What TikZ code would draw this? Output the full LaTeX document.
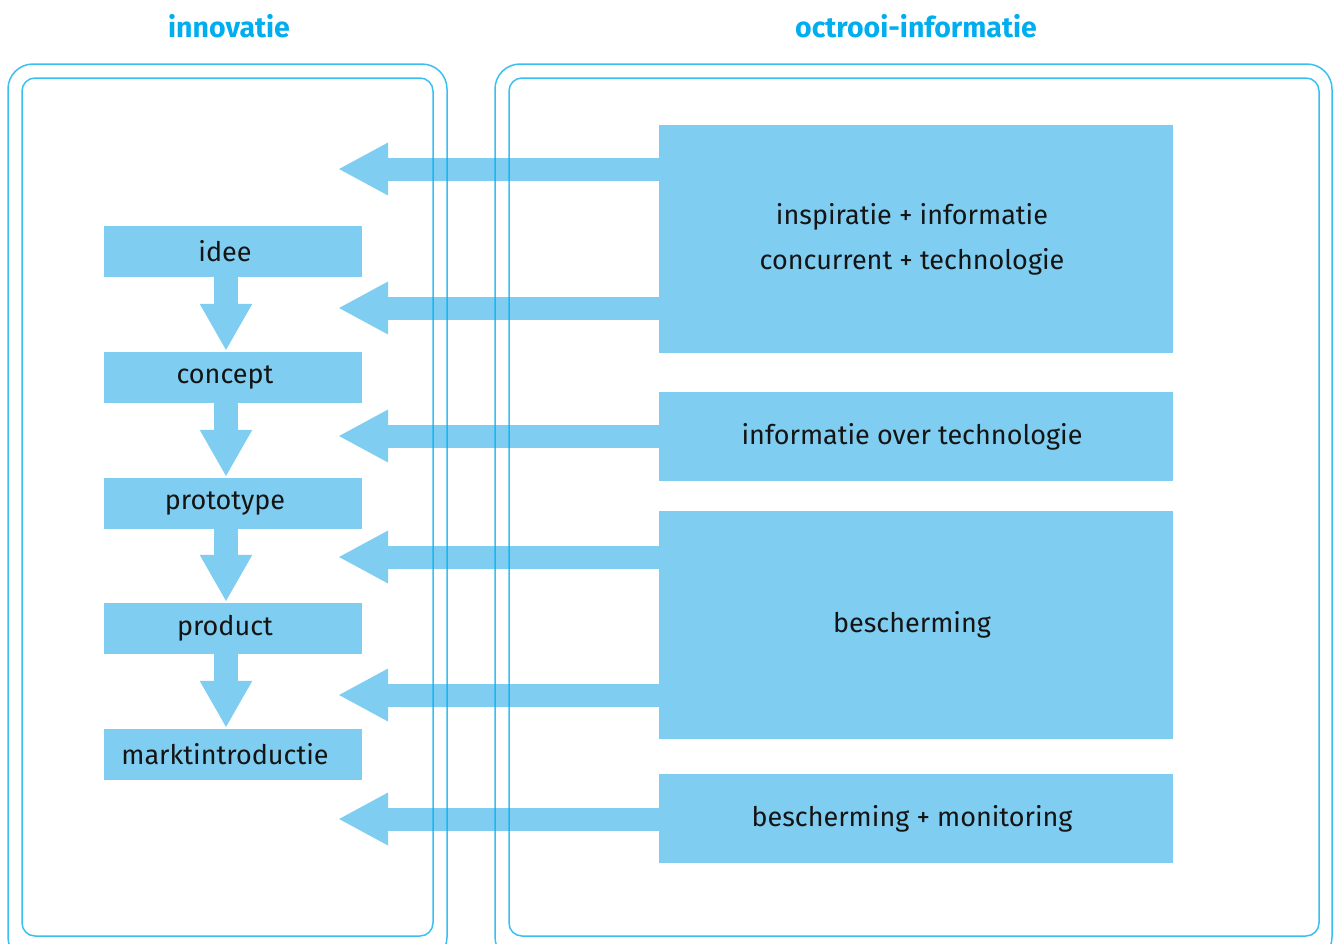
\documentclass[tikz,border=0pt]{standalone}
\usepackage{fontspec}
\setmainfont{Fira Sans}
\usetikzlibrary{arrows.meta}
\definecolor{boxblue}{HTML}{7FCEF2}
\definecolor{lineblue}{HTML}{00AEEF}
\definecolor{titleblue}{HTML}{00AEEF}
\tikzset{
  stagebox/.style={fill=boxblue, draw=none, minimum width=258pt, minimum height=51pt,
    inner sep=0pt, font=\fontsize{27}{32}\selectfont, text=black!92,
    execute at begin node=\hspace*{-16pt}},
  infobox/.style={fill=boxblue, draw=none, minimum width=514pt, inner sep=0pt},
  infotext/.style={align=center, inner sep=0pt, xshift=-4pt,
    font=\fontsize{27}{45}\selectfont, text=black!92},
  paneltitle/.style={font=\bfseries\fontsize{28.5}{32}\selectfont, text=titleblue},
  frame/.style={draw=lineblue, draw opacity=0.78, line width=1.5pt},
  downarrow/.style={draw=boxblue, line width=24pt,
    -{Triangle[length=47pt,width=49pt]}, shorten <=-0.5pt},
  leftarrow/.style={draw=boxblue, line width=23pt,
    -{Triangle[length=50pt,width=49pt]}},
}
\begin{document}
\begin{tikzpicture}[x=1pt,y=-1pt]
\useasboundingbox (0,0) rectangle (1333,943);

% stage boxes of the innovation process
\node[stagebox] (idee)    at (233,251.5) {idee};
\node[stagebox] (concept) at (233,377.5) {concept};
\node[stagebox] (proto)   at (233,503.5) {prototype};
\node[stagebox] (product) at (233,628.5) {product};
\node[stagebox] (markt)   at (233,754.5) {marktintroductie};

% patent information boxes
\node[infobox, minimum height=228pt, label={[infotext]center:inspiratie + informatie\\concurrent + technologie}] (inspi) at (916,239) {};
\node[infobox, minimum height=89pt, label={[infotext]center:informatie over technologie}] (techn) at (916,436.5) {};
\node[infobox, minimum height=228pt, label={[infotext]center:bescherming}] (besch) at (916,625) {};
\node[infobox, minimum height=89pt, label={[infotext]center:bescherming + monitoring}] (monit) at (916,818.5) {};

% arrow tips in the innovation panel
\coordinate (t1) at (338,169);
\coordinate (t2) at (338,308);
\coordinate (t3) at (338,436);
\coordinate (t4) at (338,557);
\coordinate (t5) at (338,695);
\coordinate (t6) at (338,819);

% flow between stages
\draw[downarrow] ([xshift=-7pt]idee.south) -- ([xshift=-7pt,yshift=1pt]concept.north);
\draw[downarrow] ([xshift=-7pt]concept.south) -- ([xshift=-7pt,yshift=1pt]proto.north);
\draw[downarrow] ([xshift=-7pt]proto.south) -- ([xshift=-7pt,yshift=1pt]product.north);
\draw[downarrow] ([xshift=-7pt]product.south) -- ([xshift=-7pt,yshift=1pt]markt.north);

% information flowing into the innovation panel
\draw[leftarrow] (inspi.west |- t1) -- (t1);
\draw[leftarrow] (inspi.west |- t2) -- (t2);
\draw[leftarrow] (techn.west |- t3) -- (t3);
\draw[leftarrow] (besch.west |- t4) -- (t4);
\draw[leftarrow] (besch.west |- t5) -- (t5);
\draw[leftarrow] (monit.west |- t6) -- (t6);

% panel frames
\draw[frame, rounded corners=25pt] (8,962) rectangle (447,64);
\draw[frame, rounded corners=13pt] (22,936) rectangle (433,78);
\draw[frame, rounded corners=25pt] (495,962) rectangle (1332,64);
\draw[frame, rounded corners=13pt] (509,936) rectangle (1319,78);

% panel titles
\node[paneltitle] (t-innov) at (229,26) {innovatie};
\node[paneltitle] (t-octr)  at (916,26) {octrooi-informatie};
\end{tikzpicture}
\end{document}
